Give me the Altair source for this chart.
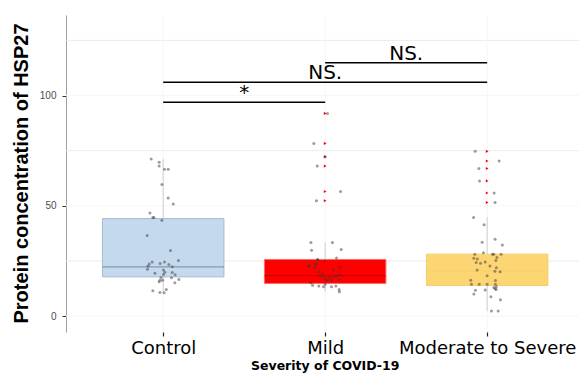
import altair as alt
import pandas as pd

# ---------------- data ----------------
categories = ["Control", "Mild", "Moderate to Severe"]
cat_pos = [1, 2, 3]

box_q1 = [17.8, 14.8, 13.9]
box_median = [22.3, 18.3, 20.5]
box_q3 = [44.2, 25.7, 28.1]
whisker_low = [10.6, 11.0, 2.3]
whisker_high = [71.2, 33.4, 44.7]

control_vals = [71.2, 69.7, 68.1, 66.6, 66.6, 59.7, 53.6, 50.8, 46.7, 44.7, 44.7, 43.5, 36.6,
                29.8, 25.2, 24.5, 23.6, 22.7, 21.2, 23.9, 24.5, 23.4, 22.4, 19.4, 20.9, 19.9,
                18.9, 19.8, 17.5, 18.7, 16.3, 16.3, 17.4, 16.6, 15.1, 15.6, 11.5, 10.7, 10.6, 12.1]
control_jit = [-0.074, -0.025, -0.025, 0.008, 0.031, -0.008, 0.031, 0.062, -0.082, -0.064, -0.057,
               -0.008, -0.099, 0.045, 0.094, -0.068, -0.086, -0.094, -0.097, -0.019, 0.008, 0.035,
               0.056, -0.051, 0.002, 0.010, 0.002, 0.056, -0.014, 0.074, -0.020, -0.004, 0.051,
               0.097, 0.072, -0.025, -0.064, -0.020, 0.006, 0.019]

mild_vals = [91.9, 78.3, 72.2, 68.0, 56.5, 52.3,
             33.4, 33.4, 29.9, 30.2, 26.4, 25.5, 24.9, 22.5, 23.9, 21.9, 21.0, 22.1, 20.1, 19.0,
             18.1, 17.1, 16.2, 17.5, 16.5, 18.3, 16.6, 18.2, 15.1, 14.0, 13.7, 13.3, 14.4, 13.3,
             13.7, 12.1, 11.0, 22.8, 23.4, 25.7, 18.6]
mild_jit = [0.014, -0.070, 0.000, -0.049, 0.095, -0.054,
            -0.088, 0.045, -0.084, 0.099, 0.070, -0.048, -0.004, -0.099, -0.056, -0.064, 0.051,
            0.093, -0.037, -0.012, -0.027, -0.002, 0.010, 0.026, 0.037, 0.072, 0.088, 0.054,
            -0.088, -0.078, -0.039, -0.010, 0.000, 0.039, 0.066, 0.086, 0.088, -0.101, -0.062,
            -0.045, 0.093]

mod_vals = [74.7, 70.3, 66.9, 61.3, 55.8, 51.5, 44.7, 41.4,
            34.9, 33.5, 32.2, 28.7, 28.1, 28.0, 28.0, 28.0, 26.2, 25.9, 26.6, 24.3, 24.0, 24.5,
            25.2, 22.7, 21.9, 20.9, 20.1, 20.3, 18.3, 16.2, 16.3, 14.5, 14.5, 14.5, 14.5, 13.0,
            12.4, 12.1, 13.3, 11.8, 11.7, 10.0, 8.8, 7.4, 2.3, 2.3]
mod_jit = [-0.074, 0.074, -0.051, -0.047, 0.043, 0.049, -0.084, -0.019,
           0.049, -0.031, 0.094, -0.023, -0.076, 0.033, 0.041, 0.086, -0.082, -0.060, 0.060,
           -0.068, -0.041, -0.012, 0.054, 0.017, 0.057, -0.062, 0.080, 0.048, 0.000, 0.051,
           -0.101, -0.097, -0.049, 0.000, 0.051, 0.041, 0.049, 0.055, 0.057, -0.012, -0.072,
           -0.082, 0.023, 0.082, 0.026, 0.068]

mild_outliers = [91.9, 78.3, 72.2, 68.0, 56.5, 52.3]
mod_outliers = [74.7, 70.3, 66.9, 61.3, 55.8, 51.5]

ann_start = [1, 1, 2]
ann_end = [2, 3, 3]
ann_y = [96.9, 106.0, 114.8]
ann_label = ["*", "NS.", "NS."]

grid_minor = [25, 75, 125]
grid_major = [0, 50, 100]

# ---------------- styles ----------------
fills = ["#c5d9ee", "#ff0000", "#fdd674"]
strokes = ["#a3bad4", "#ff6a6a", "#f5cd6a"]
median_cols = ["#8497ad", "#c80000", "#f8d06e"]

# ---------------- tables ----------------
box_df = pd.DataFrame({"category": categories, "pos": cat_pos, "q1": box_q1,
                       "median": box_median, "q3": box_q3, "lo": whisker_low,
                       "hi": whisker_high})
pts_df = pd.concat([
    pd.DataFrame({"pos": cat_pos[0], "jit": control_jit, "value": control_vals}),
    pd.DataFrame({"pos": cat_pos[1], "jit": mild_jit, "value": mild_vals}),
    pd.DataFrame({"pos": cat_pos[2], "jit": mod_jit, "value": mod_vals}),
], ignore_index=True)
out_df = pd.concat([
    pd.DataFrame({"pos": cat_pos[1], "value": mild_outliers}),
    pd.DataFrame({"pos": cat_pos[2], "value": mod_outliers}),
], ignore_index=True)
ann_df = pd.DataFrame({"start": ann_start, "end": ann_end, "y": ann_y, "label": ann_label})
gminor_df = pd.DataFrame({"v": grid_minor})
gmajor_df = pd.DataFrame({"v": grid_major})
vgrid_df = pd.DataFrame({"pos": cat_pos})

xscale = alt.Scale(domain=[0.4, 3.567], nice=False, zero=False)
yscale = alt.Scale(domain=[-7.2, 136.5], nice=False, zero=False)

label_expr = "datum.value == 1 ? 'Control' : datum.value == 2 ? 'Mild' : 'Moderate to Severe'"

x_axis = alt.Axis(values=cat_pos, labelExpr=label_expr, grid=False, domain=False,
                  ticks=True, tickSize=4, tickColor="#222222", tickWidth=1.2,
                  labelFont="DejaVu Sans", labelFontSize=18, labelColor="#000000",
                  labelBaseline="alphabetic", labelPadding=17, labelFlush=False,
                  labelOverlap=False,
                  title="Severity of COVID-19", titleFont="DejaVu Sans", titleFontSize=12.5,
                  titleFontWeight="bold", titleColor="#000000", titleX=258.7, titleY=37,
                  titleAlign="center", titleBaseline="alphabetic")
y_axis = alt.Axis(values=grid_major, grid=False, domain=True, domainColor="#a0a0a0",
                  domainWidth=1, ticks=True, tickSize=4, tickColor="#333333",
                  labelFont="Liberation Sans", labelFontSize=10, labelColor="#4d4d4d",
                  labelPadding=6,
                  title="Protein concentration of HSP27", titleFont="Liberation Sans",
                  titleFontSize=20, titleFontWeight="bold", titleColor="#000000",
                  titleX=-45, titleY=158, titleAngle=270, titleAlign="center",
                  titleBaseline="middle")


def X(field):
    return alt.X(field, scale=xscale, axis=x_axis)


def Y(field):
    return alt.Y(field, scale=yscale, axis=y_axis)


hgrid_minor = alt.Chart(gminor_df).mark_rule(color="#ebebeb", strokeWidth=1).encode(
    y=Y("v:Q"))
hgrid_major = alt.Chart(gmajor_df).mark_rule(color="#f6f6f6", strokeWidth=1).encode(
    y=Y("v:Q"))
vgrid = alt.Chart(vgrid_df).mark_rule(color="#f6f6f6", strokeWidth=1).encode(
    x=X("pos:Q"))

whisk = alt.Chart(box_df).mark_rule(color="#cfcfcf", strokeWidth=1).encode(
    x=X("pos:Q"), y=Y("lo:Q"), y2="hi:Q")

boxes = alt.Chart(box_df).transform_calculate(
    left="datum.pos - 0.375", right="datum.pos + 0.375"
).mark_rect(strokeWidth=1).encode(
    x=X("left:Q"), x2="right:Q",
    y=Y("q1:Q"), y2="q3:Q",
    fill=alt.Fill("category:N", scale=alt.Scale(domain=categories, range=fills), legend=None),
    stroke=alt.Stroke("category:N", scale=alt.Scale(domain=categories, range=strokes), legend=None))

medians = alt.Chart(box_df).transform_calculate(
    left="datum.pos - 0.375", right="datum.pos + 0.375"
).mark_rule(strokeWidth=1.2).encode(
    x=X("left:Q"), x2="right:Q",
    y=Y("median:Q"),
    color=alt.Color("category:N", scale=alt.Scale(domain=categories, range=median_cols),
                    legend=None))

outl = alt.Chart(out_df).mark_point(shape="triangle-right", filled=True, size=10,
                                     color="#ff0000", opacity=1).encode(
    x=X("pos:Q"), y=Y("value:Q"))

pts = alt.Chart(pts_df).transform_calculate(
    xx="datum.pos + datum.jit"
).mark_circle(size=9, color="#3a3a3a", opacity=0.5).encode(
    x=X("xx:Q"), y=Y("value:Q"))

ann_lines = alt.Chart(ann_df).mark_rule(color="#000000", strokeWidth=1.5).encode(
    x=X("start:Q"), x2="end:Q", y=Y("y:Q"))

ann_text = alt.Chart(ann_df).transform_calculate(
    mid="(datum.start + datum.end) / 2"
).mark_text(font="DejaVu Sans", fontSize=20, color="#000000", baseline="alphabetic",
            align="center", dy=-3).encode(
    x=X("mid:Q"), y=Y("y:Q"), text="label:N")

chart = alt.layer(
    hgrid_major, hgrid_minor, vgrid, whisk, boxes, medians, outl, pts, ann_lines, ann_text
).resolve_scale(
    color="independent", fill="independent", stroke="independent"
).properties(
    width=513, height=317,
    autosize=alt.AutoSizeParams(type="none"),
    padding={"left": 66, "top": 15, "right": 0, "bottom": 44},
    background="#ffffff",
).configure_view(stroke=None)

chart.save("out.html", embed_options={"renderer": "svg", "actions": False})
